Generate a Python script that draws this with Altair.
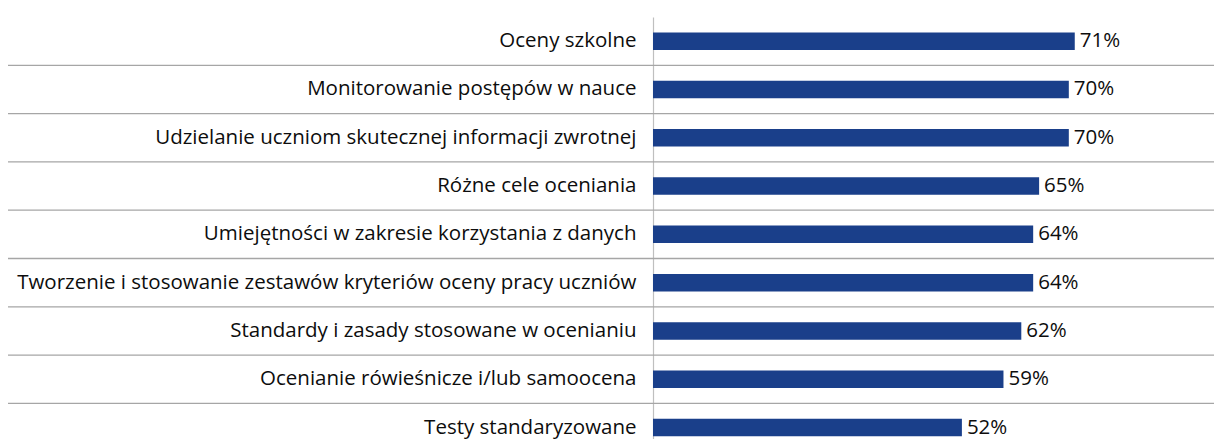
import altair as alt
import pandas as pd

categories = [
    "Oceny szkolne",
    "Monitorowanie postępów w nauce",
    "Udzielanie uczniom skutecznej informacji zwrotnej",
    "Różne cele oceniania",
    "Umiejętności w zakresie korzystania z danych",
    "Tworzenie i stosowanie zestawów kryteriów oceny pracy uczniów",
    "Standardy i zasady stosowane w ocenianiu",
    "Ocenianie rówieśnicze i/lub samoocena",
    "Testy standaryzowane",
]
values = [71, 70, 70, 65, 64, 64, 62, 59, 52]
labels = [f"{v}%" for v in values]

df = pd.DataFrame({"cat": categories, "val": values, "label": labels})
sep = pd.DataFrame({"cat": categories[1:]})

PLOT_W = 561
STEP = 48.3
FONT = "Open Sans"
FS = 20.5

yscale = alt.Scale(domain=categories, range=[0, STEP * len(categories)],
                   paddingInner=0, paddingOuter=0)
xscale = alt.Scale(domain=[0, 94.44], nice=False, zero=True)

rules = alt.Chart(sep).mark_rule(color="#A6A6A6", strokeWidth=1.3).encode(
    y=alt.Y("cat:N", scale=yscale, bandPosition=0),
    x=alt.value(-646),
    x2=alt.value(PLOT_W),
)

bars = alt.Chart(df).mark_bar(size=17.5, color="#1A3F8A").encode(
    y=alt.Y(
        "cat:N",
        scale=yscale,
        sort=None,
        axis=alt.Axis(
            title=None,
            domain=True,
            domainColor="#BFBFBF",
            domainWidth=1.2,
            ticks=False,
            grid=False,
            labelAlign="right",
            labelPadding=17,
            labelFont=FONT,
            labelFontSize=FS,
            labelColor="#0d0d0d",
            labelLimit=700,
        ),
    ),
    x=alt.X("val:Q", scale=xscale, axis=None),
)

text = alt.Chart(df).mark_text(
    align="left", baseline="middle", dx=5, font=FONT, fontSize=FS, color="#0d0d0d"
).encode(
    y=alt.Y("cat:N", scale=yscale),
    x=alt.X("val:Q", scale=xscale),
    text="label:N",
)

chart = alt.layer(rules, bars, text).properties(
    width=PLOT_W,
    height=422,
    autosize=alt.AutoSizeParams(type="none"),
    padding={"left": 645, "top": 9, "right": 0, "bottom": 0},
).configure_view(stroke=None)

chart.save("out.html", embed_options={"renderer": "svg", "actions": False})
